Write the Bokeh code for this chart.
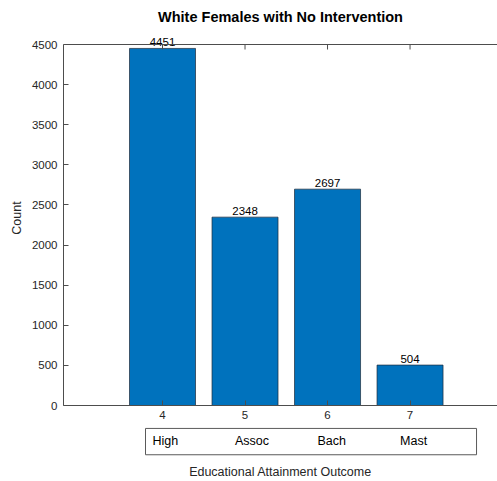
from bokeh.plotting import figure
from bokeh.layouts import column
from bokeh.models import ColumnDataSource, Span, FixedTicker, Range1d
from bokeh.core.properties import value
from bokeh.embed import file_html
from bokeh.resources import INLINE

categories = [4, 5, 6, 7]
counts = [4451, 2348, 2697, 504]
level_names = ["High", "Assoc", "Bach", "Mast"]
y_ticks = [0, 500, 1000, 1500, 2000, 2500, 3000, 3500, 4000, 4500]
y_max = 4500

FONT = "Liberation Sans"
AX_COLOR = "#4d4d4d"
TXT = "#262626"

# ---- main figure geometry (pixels) ----
W = 497
LEFT = 63
TOP = 30          # frame top (room for title)
AX_TOP = 44       # pixel where y_max sits
AX_BOT = 405      # pixel where 0 sits
px_per_unit = (AX_BOT - AX_TOP) / y_max
y_end = (AX_BOT - TOP) / px_per_unit

src = ColumnDataSource(dict(x=categories, y=counts, lab=[str(c) for c in counts],
                            name=level_names))

p = figure(width=W, height=AX_BOT + 20, output_backend="svg", toolbar_location=None,
           x_range=Range1d(2.8, 8.06), y_range=Range1d(0, y_end),
           min_border_left=LEFT, min_border_right=0, min_border_top=TOP,
           min_border_bottom=20, title="White Females with No Intervention")
p.outline_line_color = None
p.grid.visible = False
p.background_fill_color = "white"
p.border_fill_color = "white"

p.title.align = "center"
p.title.text_font = FONT
p.title.text_font_size = "14.5px"
p.title.text_font_style = "bold"
p.title.text_color = "black"
p.title.standoff = 12

p.vbar(x="x", top="y", width=0.8, source=src, fill_color="#0072BD",
       line_color="#1c2a3a", line_width=0.7)

for ax in (p.xaxis[0], p.yaxis[0]):
    ax.axis_line_color = AX_COLOR
    ax.major_tick_line_color = AX_COLOR
    ax.major_tick_in = 5
    ax.major_tick_out = 0
    ax.minor_tick_line_color = None
    ax.major_label_text_font = FONT
    ax.major_label_text_font_size = "11.5px"
    ax.major_label_text_color = TXT
    ax.axis_label_text_font = FONT
    ax.axis_label_text_font_size = "12.5px"
    ax.axis_label_text_font_style = "normal"
    ax.axis_label_text_color = TXT

p.yaxis.ticker = FixedTicker(ticks=y_ticks)
p.yaxis.bounds = (0, y_max)
p.yaxis.axis_label = "Count"
p.yaxis.major_label_standoff = 6
p.yaxis.axis_label_standoff = 5

p.xaxis.ticker = FixedTicker(ticks=categories)
p.xaxis.major_label_standoff = 5

# top box edge with inward ticks
p.add_layout(Span(location=y_max, dimension="width", line_color=AX_COLOR, line_width=1))
tick_len = 5 / px_per_unit
p.segment(x0=categories, y0=[y_max] * len(categories), x1=categories,
          y1=[y_max - tick_len] * len(categories), line_color=AX_COLOR, line_width=1)

# value labels on bars
p.text(x="x", y="y", text="lab", source=src, text_align="center",
       text_baseline="bottom", y_offset=-2, text_font=value(FONT),
       text_font_size="11.5px", text_color="black")

# ---- lower strip: category name box + x axis title ----
B_H = 481 - (AX_BOT + 20)
B_FRAME = 40
q = figure(width=W, height=B_H, output_backend="svg", toolbar_location=None,
           x_range=p.x_range, y_range=Range1d(B_FRAME, 0),
           min_border_left=LEFT, min_border_right=0, min_border_top=0,
           min_border_bottom=B_H - B_FRAME)
q.outline_line_color = None
q.grid.visible = False
q.yaxis.visible = False
q.background_fill_color = "white"
q.border_fill_color = "white"

q.quad(left=[3.794], right=[7.806], top=[3], bottom=[30], fill_color=None,
       line_color="#5a5a5a", line_width=1)
q.text(x="x", y=15.5, text="name", source=src,
       text_align="left", text_baseline="middle", x_offset=-10,
       text_font=value(FONT), text_font_size="12.5px", text_color="black")

xa = q.xaxis[0]
xa.ticker = FixedTicker(ticks=[])
xa.axis_line_color = None
xa.major_tick_line_color = None
xa.minor_tick_line_color = None
xa.axis_label = "Educational Attainment Outcome"
xa.axis_label_standoff = 0
xa.axis_label_text_font = FONT
xa.axis_label_text_font_size = "12.5px"
xa.axis_label_text_font_style = "normal"
xa.axis_label_text_color = TXT

layout = column(p, q, spacing=0)
open("out.html", "w").write(file_html(layout, INLINE))
